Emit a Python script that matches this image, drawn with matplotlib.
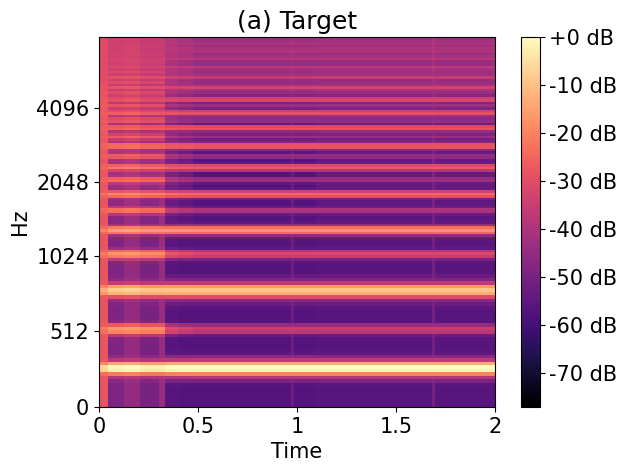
import numpy as np
import matplotlib
matplotlib.use("Agg")
import matplotlib.pyplot as plt
from matplotlib.ticker import FixedLocator, FixedFormatter, NullLocator

plt.rcParams['font.size'] = 15

# --- values (mel spectrogram of a held C4 note) ---
sr = 16000
duration_s = 2.0
n_frames = 126
n_mels = 128
f0_hz = 262.0

harmonic_num = [1, 2, 3, 4, 5, 6, 7, 8, 9, 10,
                11, 12, 13, 14, 15, 16, 17, 18, 19, 20,
                21, 22, 23, 24, 25, 26, 27, 28, 29, 30]
# peak level of each harmonic while the note is held (dB re max)
sustain_db = [-2, -38, -13, -35, -21, -42, -27, -45, -29, -46,
              -29, -46, -30, -46, -31, -46, -33, -46, -35, -47,
              -38, -47, -39, -47, -40, -46, -41, -46, -42, -46]
# peak level of each harmonic during the attack / onset
onset_db = [-3, -20, -12, -21, -19, -25, -22, -26, -24, -28,
            -25, -29, -27, -30, -28, -31, -30, -32, -31, -33,
            -32, -34, -34, -35, -35, -36, -36, -37, -37, -38]

# time segments (s) and their noise floor / harmonic gain
seg_edges_s = [0.0, 0.04, 0.13, 0.20, 0.30, 0.33, 0.40, 0.48, 1.10, 2.0]
floor_low_db = [-33, -54, -50, -55, -49, -61, -62, -62, -61]
floor_mid_db = [-33, -47, -45, -49, -47, -55, -58, -63, -59]
floor_top_db = [-36, -43, -43, -45, -45, -48, -50, -55, -53]
harm_gain_db = [-5, 0, 1, -1, -1, 0, 0, 0, 0]
onset_mix = [1, 1, 1, 1, 1, 0.25, 0.1, 0, 0]

# faint clicks seen as lighter columns
click_times_s = [0.98, 1.69]
click_boost_db = 5.0

freq_ticks = [0, 512, 1024, 2048, 4096]
time_ticks = [0, 0.5, 1, 1.5, 2]
time_ticklabels = ["0", "0.5", "1", "1.5", "2"]
db_ticks = [0, -10, -20, -30, -40, -50, -60, -70]


# slaney mel scale
F_SP = 200.0 / 3
LOGSTEP = np.log(6.4) / 27.0


def hz_to_mel(f):
    f = np.asarray(f, dtype=float)
    return np.where(f < 1000, f / F_SP,
                    15.0 + np.log(np.maximum(f, 1e-9) / 1000.0) / LOGSTEP)


def mel_to_hz(m):
    m = np.asarray(m, dtype=float)
    return np.where(m < 15, m * F_SP, 1000.0 * np.exp(LOGSTEP * (m - 15.0)))


fmax = sr / 2
mel_edges = np.linspace(0, hz_to_mel(fmax), n_mels + 1)
y_edges = mel_to_hz(mel_edges)
mel_centers = 0.5 * (mel_edges[:-1] + mel_edges[1:])
hz_centers = mel_to_hz(mel_centers)
dm = mel_edges[1] - mel_edges[0]

# triangular mel filters on a fine linear grid
f_fine = np.arange(0, fmax + 1, 2.0)
lo = mel_to_hz(mel_centers - dm)
hi = mel_to_hz(mel_centers + dm)
up = (f_fine[None, :] - lo[:, None]) / (hz_centers - lo)[:, None]
down = (hi[:, None] - f_fine[None, :]) / (hi - hz_centers)[:, None]
W = np.clip(np.minimum(up, down), 0, None)

t_edges = np.linspace(0, duration_s, n_frames + 1)
t_centers = 0.5 * (t_edges[:-1] + t_edges[1:])
seg = np.clip(np.searchsorted(seg_edges_s, t_centers, side='right') - 1, 0, len(floor_low_db) - 1)

# noise floor, blended over three frequency zones
w_low = np.interp(f_fine, [0, 1200, 2200], [1, 1, 0])
w_top = np.interp(f_fine, [4500, 5500], [0, 1])
w_mid = 1 - w_low - w_top
floor_db = (np.array(floor_low_db)[seg][:, None] * w_low
            + np.array(floor_mid_db)[seg][:, None] * w_mid
            + np.array(floor_top_db)[seg][:, None] * w_top)
for tc in click_times_s:
    floor_db[np.argmin(np.abs(t_centers - tc))] += click_boost_db

# harmonic peaks
h = np.array(harmonic_num, dtype=float)
fh = f0_hz * h
sigma = 7 + 1.2 * h
d = (f_fine[None, :] - fh[:, None]) / sigma[:, None]
G = np.exp(-0.5 * d ** 2) + 10 ** (-3.0) * np.exp(-0.5 * (d / 3) ** 2)
mix = np.array(onset_mix, dtype=float)[seg][:, None]
L = mix * np.array(onset_db) + (1 - mix) * np.array(sustain_db) \
    + np.array(harm_gain_db)[seg][:, None]
P = 10 ** (floor_db / 10) + (10 ** (L / 10)) @ G

M = (P @ W.T) / W.sum(axis=1)
S_db = 10 * np.log10(M / M.max())

fig = plt.figure(figsize=(6.26, 4.72), dpi=100)
ax = fig.add_axes([0.1581, 0.1377, 0.6326, 0.7839])
cax = fig.add_axes([0.8315, 0.1377, 0.0304, 0.7839])

mesh = ax.pcolormesh(t_edges, y_edges, S_db.T, cmap='magma', vmin=-77, vmax=0, shading='flat')
ax.set_yscale('symlog', base=2, linthresh=1000, linscale=1)
ax.set_ylim(0, fmax)
ax.set_xlim(0, duration_s)
ax.yaxis.set_major_locator(FixedLocator(freq_ticks))
ax.yaxis.set_major_formatter(FixedFormatter([str(v) for v in freq_ticks]))
ax.yaxis.set_minor_locator(NullLocator())
ax.set_xticks(time_ticks, time_ticklabels)
ax.set_xlabel('Time')
ax.set_ylabel('Hz')
ax.set_title('(a) Target')

cb = fig.colorbar(mesh, cax=cax, format='%+2.0f dB')
cb.set_ticks(db_ticks)

fig.savefig('out.png', dpi=100)
